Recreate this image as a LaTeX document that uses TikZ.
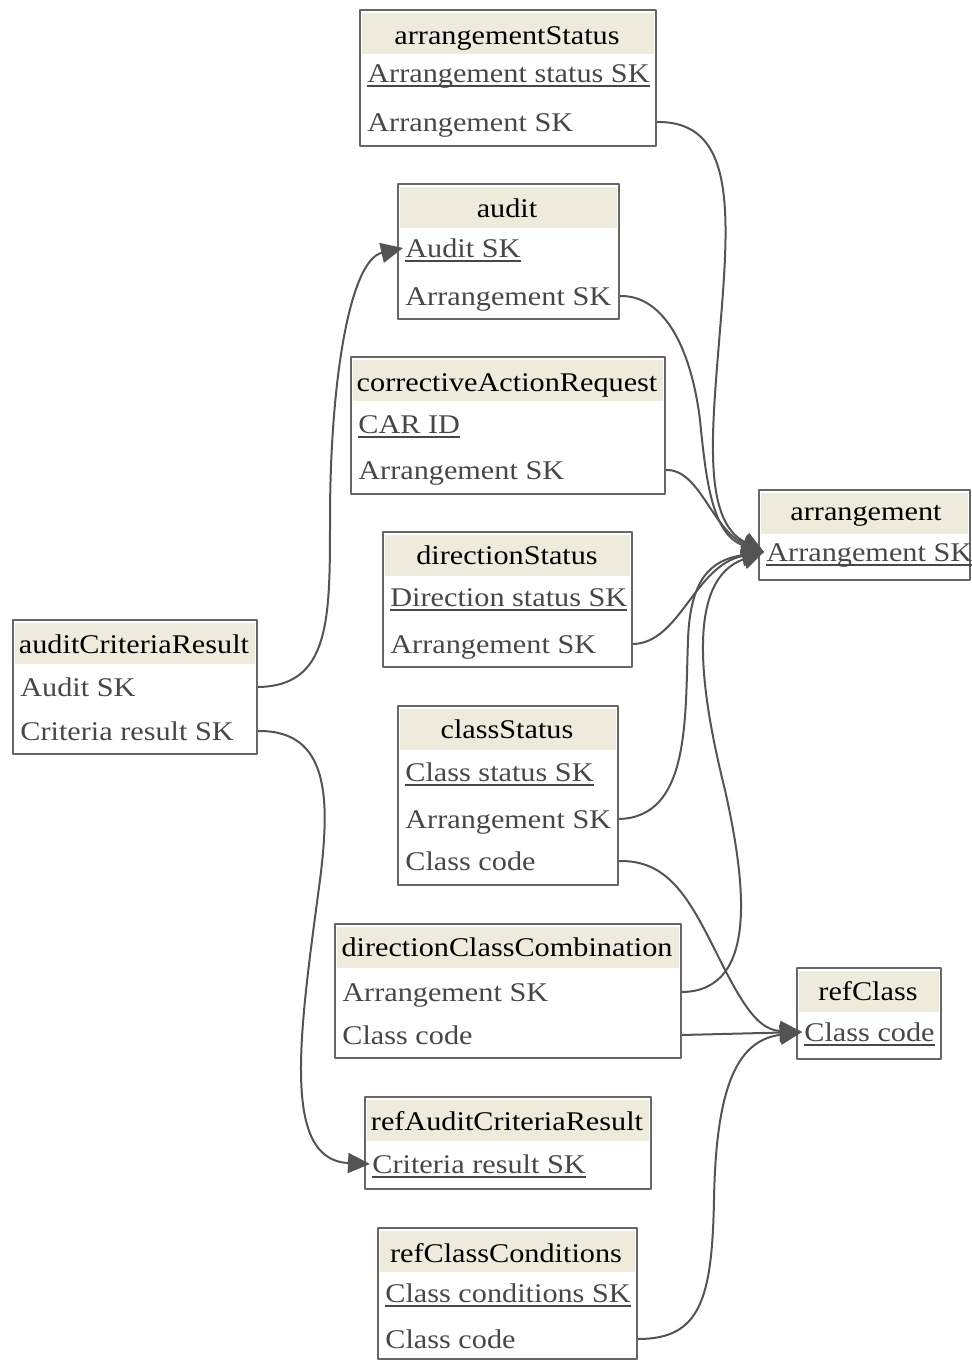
\documentclass[tikz,border=0pt]{standalone}
\usepackage{fontspec}
\setmainfont{Liberation Serif}[FakeStretch=1.12]
\usetikzlibrary{arrows.meta}
\definecolor{edgecol}{rgb}{0.33,0.33,0.33}
\definecolor{boxcol}{rgb}{0.4,0.4,0.4}
\definecolor{headcol}{rgb}{0.933,0.922,0.867}
\definecolor{fieldcol}{rgb}{0.28,0.28,0.28}
% primary key: underlined field
\newcommand{\pk}[1]{\setbox0\hbox{#1}\rlap{\rule[-2.6pt]{\wd0}{1pt}}\box0}
\begin{document}
\begin{tikzpicture}[x=0.5pt,y=-0.5pt,>={Triangle[length=11pt,width=10pt]},line join=bevel,
  tbl/.style={draw=boxcol,line width=1pt,inner sep=0pt,anchor=north west},
  hdr/.style={anchor=base,inner sep=0pt,text=black,font=\fontsize{13.5pt}{16pt}\selectfont},
  fld/.style={anchor=base west,inner xsep=1pt,inner ysep=0pt,text height=12pt,text depth=3pt,
    text=fieldcol,font=\fontsize{13.5pt}{16pt}\selectfont},
  edge/.style={draw=edgecol,line width=1pt}]
\useasboundingbox (0,0) rectangle (971,1360);
%%
  % Node: arrangementStatus
\begin{scope}
  \node[tbl,minimum width=148pt,minimum height=68pt] (as) at (359,9) {};
  \fill[headcol] ([xshift=1.5pt,yshift=-2pt]as.north west) rectangle ([xshift=-1.5pt,yshift=-22.5pt]as.north east);
  \node[hdr] (as-h) at (507,44) {arrangementStatus};
  \node[fld] (as-ask) at (365,82) {\pk{Arrangement status SK}};
  \node[fld] (as-ar) at (365,131) {Arrangement SK};
\end{scope}
  % Node: audit
\begin{scope}
  \node[tbl,minimum width=110.5pt,minimum height=67.5pt] (au) at (397,183) {};
  \fill[headcol] ([xshift=1.5pt,yshift=-2pt]au.north west) rectangle ([xshift=-1.5pt,yshift=-22.5pt]au.north east);
  \node[hdr] (au-h) at (507,217) {audit};
  \node[fld] (au-ausk) at (403,257) {\pk{Audit SK}};
  \node[fld] (au-ar) at (403,305) {Arrangement SK};
\end{scope}
  % Node: correctiveActionRequest
\begin{scope}
  \node[tbl,minimum width=157pt,minimum height=68.5pt] (car) at (350,356) {};
  \fill[headcol] ([xshift=1.5pt,yshift=-2pt]car.north west) rectangle ([xshift=-1.5pt,yshift=-22.5pt]car.north east);
  \node[hdr] (car-h) at (507,391) {correctiveActionRequest};
  \node[fld] (car-id) at (356,433) {\pk{CAR ID}};
  \node[fld] (car-ar) at (356,479) {Arrangement SK};
\end{scope}
  % Node: directionStatus
\begin{scope}
  \node[tbl,minimum width=124.5pt,minimum height=67.5pt] (ds) at (382,531) {};
  \fill[headcol] ([xshift=1.5pt,yshift=-2pt]ds.north west) rectangle ([xshift=-1.5pt,yshift=-22.5pt]ds.north east);
  \node[hdr] (ds-h) at (507,564) {directionStatus};
  \node[fld] (ds-dsk) at (388,606) {\pk{Direction status SK}};
  \node[fld] (ds-ar) at (388,653) {Arrangement SK};
\end{scope}
  % Node: classStatus
\begin{scope}
  \node[tbl,minimum width=110pt,minimum height=89.5pt] (cs) at (397,705) {};
  \fill[headcol] ([xshift=1.5pt,yshift=-2pt]cs.north west) rectangle ([xshift=-1.5pt,yshift=-22.5pt]cs.north east);
  \node[hdr] (cs-h) at (507,738) {classStatus};
  \node[fld] (cs-csk) at (403,781) {\pk{Class status SK}};
  \node[fld] (cs-ar) at (403,828) {Arrangement SK};
  \node[fld] (cs-cc) at (403,870) {Class code};
\end{scope}
  % Node: directionClassCombination
\begin{scope}
  \node[tbl,minimum width=173pt,minimum height=67pt] (dcc) at (334,923) {};
  \fill[headcol] ([xshift=1.5pt,yshift=-2pt]dcc.north west) rectangle ([xshift=-1.5pt,yshift=-22.5pt]dcc.north east);
  \node[hdr] (dcc-h) at (507,956) {directionClassCombination};
  \node[fld] (dcc-ar) at (340,1001) {Arrangement SK};
  \node[fld] (dcc-cc) at (340,1044) {Class code};
\end{scope}
  % Node: refAuditCriteriaResult
\begin{scope}
  \node[tbl,minimum width=143pt,minimum height=46pt] (racr) at (364,1096) {};
  \fill[headcol] ([xshift=1.5pt,yshift=-2pt]racr.north west) rectangle ([xshift=-1.5pt,yshift=-22.5pt]racr.north east);
  \node[hdr] (racr-h) at (507,1130) {refAuditCriteriaResult};
  \node[fld] (racr-crsk) at (370,1173) {\pk{Criteria result SK}};
\end{scope}
  % Node: refClassConditions
\begin{scope}
  \node[tbl,minimum width=129.5pt,minimum height=65.5pt] (rcc) at (377,1227) {};
  \fill[headcol] ([xshift=1.5pt,yshift=-2pt]rcc.north west) rectangle ([xshift=-1.5pt,yshift=-22.5pt]rcc.north east);
  \node[hdr] (rcc-h) at (506,1262) {refClassConditions};
  \node[fld] (rcc-ccsk) at (383,1302) {\pk{Class conditions SK}};
  \node[fld] (rcc-cc) at (383,1348) {Class code};
\end{scope}
  % Node: arrangement
\begin{scope}
  \node[tbl,minimum width=105.5pt,minimum height=45pt] (arr) at (758,489) {};
  \fill[headcol] ([xshift=1.5pt,yshift=-2pt]arr.north west) rectangle ([xshift=-1.5pt,yshift=-22.5pt]arr.north east);
  \node[hdr] (arr-h) at (866,520) {arrangement};
  \node[fld] (arr-ask) at (764,561) {\pk{Arrangement SK}};
\end{scope}
  % Node: refClass
\begin{scope}
  \node[tbl,minimum width=72pt,minimum height=45.5pt] (rc) at (796,967) {};
  \fill[headcol] ([xshift=1.5pt,yshift=-2pt]rc.north west) rectangle ([xshift=-1.5pt,yshift=-22.5pt]rc.north east);
  \node[hdr] (rc-h) at (868,1000) {refClass};
  \node[fld] (rc-cc) at (802,1041) {\pk{Class code}};
\end{scope}
  % Node: auditCriteriaResult
\begin{scope}
  \node[tbl,minimum width=122pt,minimum height=67pt] (acr) at (12,619) {};
  \fill[headcol] ([xshift=1.5pt,yshift=-2pt]acr.north west) rectangle ([xshift=-1.5pt,yshift=-22.5pt]acr.north east);
  \node[hdr] (acr-h) at (134,653) {auditCriteriaResult};
  \node[fld] (acr-ausk) at (18,696) {Audit SK};
  \node[fld] (acr-crsk) at (18,740) {Criteria result SK};
\end{scope}
%%
  % Edge: arrangementStatus -> arrangement
  \draw[edge,->] (as.east |- as-ar) .. controls (735,121) and (730,210) .. (720,330) .. controls (712,430) and (702,520) .. (arr-ask.west);
  % Edge: audit -> arrangement
  \draw[edge,->] (au.east |- au-ar) .. controls (660,295) and (690,340) .. (700,420) .. controls (706,480) and (712,535) .. (arr-ask.west);
  % Edge: correctiveActionRequest -> arrangement
  \draw[edge,->] (car.east |- car-ar) .. controls (700,469) and (712,530) .. (arr-ask.west);
  % Edge: directionStatus -> arrangement
  \draw[edge,->] (ds.east |- ds-ar) .. controls (680,643) and (695,565) .. (arr-ask.west);
  % Edge: classStatus -> arrangement
  \draw[edge,->] (cs.east |- cs-ar) .. controls (690,817) and (685,720) .. (688,640) .. controls (690,580) and (710,560) .. (arr-ask.west);
  % Edge: directionClassCombination -> arrangement
  \draw[edge,->] (dcc.east |- dcc-ar) .. controls (760,991) and (745,880) .. (725,790) .. controls (700,690) and (685,580) .. (arr-ask.west);
  % Edge: classStatus -> refClass
  \draw[edge,->] (cs.east |- cs-cc) .. controls (670,860) and (690,900) .. (720,960) .. controls (745,1010) and (760,1030) .. (rc-cc.west);
  % Edge: directionClassCombination -> refClass
  \draw[edge,->] (dcc.east |- dcc-cc) -- (rc-cc.west);
  % Edge: refClassConditions -> refClass
  \draw[edge,->] (rcc.east |- rcc-cc) .. controls (700,1339) and (712,1300) .. (714,1200) .. controls (716,1080) and (740,1040) .. (rc-cc.west);
  % Edge: auditCriteriaResult -> audit
  \draw[edge,->] (acr.east |- acr-ausk) .. controls (330,686) and (330,620) .. (330,520) .. controls (330,380) and (350,260) .. (au-ausk.west);
  % Edge: auditCriteriaResult -> refAuditCriteriaResult
  \draw[edge,->] (acr.east |- acr-crsk) .. controls (330,730) and (330,800) .. (320,880) .. controls (300,1030) and (280,1160) .. (racr-crsk.west);
%
\end{tikzpicture}
\end{document}
